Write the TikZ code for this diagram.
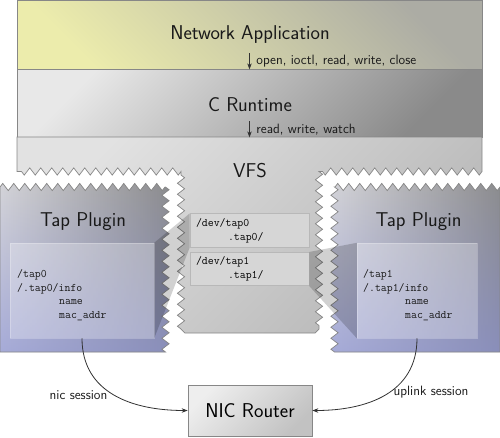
\documentclass[tikz,border=0pt]{standalone}
\usetikzlibrary{arrows.meta,decorations.pathmorphing,fadings}
\definecolor{appTR}{RGB}{172,172,164}
\definecolor{appBL}{RGB}{236,236,172}
\definecolor{crtTL}{RGB}{232,232,232}
\definecolor{crtBR}{RGB}{138,138,138}
\definecolor{vfsTL}{RGB}{226,226,226}
\definecolor{vfsBR}{RGB}{182,182,182}
\definecolor{tapL}{RGB}{212,212,216}
\definecolor{tapR}{RGB}{140,140,142}
\definecolor{tapBlue}{RGB}{136,144,216}
\definecolor{dtFill}{RGB}{214,214,214}
\definecolor{dtEdge}{RGB}{184,184,184}
\definecolor{edgeGray}{RGB}{135,135,135}
\definecolor{arrGray}{RGB}{50,50,50}
\definecolor{nicTL}{RGB}{238,238,238}
\definecolor{nicBR}{RGB}{194,194,194}
\tikzset{
  zz/.style={decoration={zigzag,segment length=11pt,amplitude=3.6pt}},
  layer/.style={draw=edgeGray, line width=0.7pt, inner sep=0pt, shading=axis},
  titletext/.style={font=\fontsize{20}{24}\selectfont\sffamily, inner sep=0pt, text=black!90},
  smalltext/.style={font=\fontsize{13.5}{16}\selectfont\sffamily, inner sep=0pt, text=black!90},
  monotext/.style={font=\fontsize{11.5}{13.5}\selectfont\ttfamily, align=left, inner sep=0pt, text=black!90},
  arr/.style={draw=arrGray, line width=0.8pt, -{Stealth[length=6pt,width=4.5pt]}},
  innerbox/.style={fill=white, fill opacity=0.28, draw=white, draw opacity=0.25, line width=0.5pt, inner sep=0pt},
  dtbox/.style={fill=dtFill, draw=dtEdge, line width=0.6pt, inner xsep=6pt, inner ysep=0pt,
     text width=107pt, minimum height=33.5pt, align=left,
     font=\fontsize{11.5}{14}\selectfont\ttfamily},
  wedge/.style={fill=black, fill opacity=0.18},
  nicbox/.style={shading=axis, top color=nicTL, bottom color=nicBR, shading angle=45,
     draw=edgeGray, line width=0.7pt, minimum width=124pt, minimum height=51pt,
     font=\fontsize{20}{24}\selectfont\sffamily},
  tapedge/.style={draw=edgeGray, line width=0.7pt},
}
\def\leftTap{(0,352) -- (0,187) decorate[zz]{ -- (165.5,187)} decorate[zz]{ -- (165.5,352)} -- cycle}
\def\rightTap{(500,352) -- (500,187) decorate[zz]{ -- (334.5,187)} decorate[zz]{ -- (334.5,352)} -- cycle}
\begin{document}
\begin{tikzpicture}[x=1pt,y=-1pt]
\useasboundingbox (0,0) rectangle (500,437);

% layers
\node[layer, top color=appTR, bottom color=appBL, shading angle=-45,
      minimum width=465pt, minimum height=69pt] (app) at (249.5,34.5) {};
\node[layer, top color=crtTL, bottom color=crtBR, shading angle=45,
      minimum width=465pt, minimum height=68pt] (crt) at (249.5,103) {};
\path[shading=axis, top color=vfsTL, bottom color=vfsBR, shading angle=45, draw=edgeGray, line width=0.7pt]
  (17,137) -- (482,137) -- (482,171.5)
  decorate[zz]{ -- (319,171.5) }
  decorate[zz]{ -- (319,329) } -- (315,333) -- (185,333) -- (181,329)
  decorate[zz]{ -- (181,171.5) }
  decorate[zz]{ -- (17,171.5) } -- cycle;

\node[titletext] (appt) at (250,35) {Network Application};
\node[titletext] (crtt) at (250,104.5) {C Runtime};
\node[titletext] (vfst) at (250,170.5) {VFS};

\coordinate (a1) at (249.5,53);
\draw[arr] (a1) -- (a1 |- app.south)
  node[midway, smalltext, anchor=west, xshift=6.5pt] (a1l) {open, ioctl, read, write, close};
\coordinate (a2) at (249.5,121);
\draw[arr] (a2) -- (a2 |- crt.south)
  node[midway, smalltext, anchor=west, xshift=6.5pt] (a2l) {read, write, watch};

% tap plugins
\path[shading=axis, left color=tapL, right color=tapR] \leftTap;
\path[fill=tapBlue, fill opacity=0.6, path fading=north] \leftTap;
\path[tapedge] \leftTap;
\path[shading=axis, left color=tapL, right color=tapR] \rightTap;
\path[fill=tapBlue, fill opacity=0.6, path fading=north] \rightTap;
\path[tapedge] \rightTap;

\node[titletext] (ltt) at (83,222) {Tap Plugin};
\node[titletext] (rtt) at (418.5,222) {Tap Plugin};

% VFS device boxes
\node[dtbox] (dt0) at (249.5,230.5) {/dev/tap0\\\hspace*{32pt}.tap0/};
\node[dtbox] (dt1) at (249.5,269) {/dev/tap1\\\hspace*{32pt}.tap1/};

% inner box placement
\coordinate (linc) at (82,290.5);
\coordinate (rinc) at (417,290.5);
\path (linc) node[minimum width=144pt, minimum height=95pt, inner sep=0pt] (lin) {};
\path (rinc) node[minimum width=120pt, minimum height=95pt, inner sep=0pt] (rin) {};

% wedges
\path[wedge] (dt0.north west) -- (dt0.south west) -- (lin.south east) -- (lin.north east) -- cycle;
\path[wedge] (dt1.north east) -- (dt1.south east) -- (rin.south west) -- (rin.north west) -- cycle;

% inner boxes on top of wedges
\node[innerbox, minimum width=144pt, minimum height=95pt] (lbox) at (lin) {};
\node[innerbox, minimum width=120pt, minimum height=95pt] (rbox) at (rin) {};

\node[monotext, anchor=west] (ltxt) at (17,295)
  {/tap0\\/.tap0/info\\\hspace*{42pt}name\\\hspace*{42pt}mac\_addr};
\node[monotext, anchor=west] (rtxt) at (363,295)
  {/tap1\\/.tap1/info\\\hspace*{42pt}name\\\hspace*{42pt}mac\_addr};

% NIC router
\node[nicbox] (nic) at (250,410.5) {NIC Router};

\draw[arr] (lbox.south) to[out=-90,in=180,looseness=1.1] (nic.west);
\draw[arr] (rbox.south) to[out=-90,in=0,looseness=1.1] (nic.east);
\node[smalltext] (nicl) at (78.5,395) {nic session};
\node[smalltext] (upl) at (431,392.5) {uplink session};
\end{tikzpicture}
\end{document}
